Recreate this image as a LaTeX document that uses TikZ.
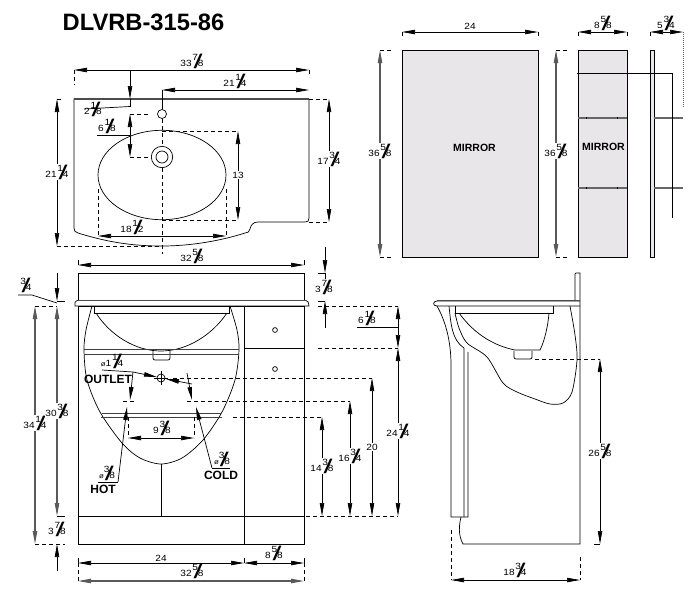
\documentclass[tikz,border=0pt]{standalone}
\usepackage{fontspec}
\setmainfont{Liberation Sans}
\newfontfamily\dimfont[FakeStretch=1.12]{Liberation Sans}
\usetikzlibrary{arrows.meta}
\newcommand{\fra}[2]{\raisebox{6pt}{#1}\kern-4.5pt\raisebox{-1.5pt}{\scalebox{3.2}[2.2]{/}}\kern-4.5pt#2}
\newcommand{\fr}[3]{#1\kern.8pt\fra{#2}{#3}}
\definecolor{mirrorgray}{HTML}{E8E6E8}
\begin{document}
\begin{tikzpicture}[x=1pt,y=-1pt,line width=.7pt]
	\tikzstyle{dimline}=[{Triangle[length=13pt,width=4.4pt]}-{Triangle[length=13pt,width=4.4pt]},line width=.7pt]
	\tikzstyle{dimgray}=[dimline,line width=1.1pt,draw=black!65]
	\tikzstyle{onetip}=[-{Triangle[length=13pt,width=4.4pt]},line width=.7pt]
	\tikzstyle{hidden}=[dash pattern=on 4pt off 3pt,line width=.7pt]
	\tikzstyle{lab}=[font=\dimfont\fontsize{9}{10}\selectfont,inner sep=.5pt]
	\tikzstyle{labw}=[lab,fill=white]
	\tikzstyle{bold}=[font=\bfseries\fontsize{12}{13}\selectfont,inner sep=0pt]
	\tikzstyle{mirror}=[font=\bfseries\fontsize{10.5}{12}\selectfont,inner sep=0pt]
	\tikzstyle{panel}=[draw,fill=mirrorgray]
	\useasboundingbox (0,0) rectangle (700,600);

	\node[font=\bfseries\fontsize{23.7}{26}\selectfont,inner sep=0pt] (title) at (143.5,22) {DLVRB-315-86};

	% plan of the top
	\draw (74,99) -- (309,99) -- (309,218) .. controls (309,221) and (308,222) .. (305,222) -- (258,222)
		.. controls (253,222) and (251,225) .. (250,229) .. controls (249,232) and (248,233) .. (245,233)
		.. controls (220,241) and (190,246) .. (162,246) .. controls (135,246) and (110,243) .. (78,233)
		.. controls (75,232) and (74,231) .. (74,228) -- cycle;
	\draw[line width=1.2pt,black!70] (74,99) -- (309,99);
	\draw (162,175) ellipse (64 and 44.7);
	\draw (162,114) circle (4.5);
	\draw (162,157) circle (10.7);
	\draw (162,157) circle (6);
	\draw (162,90) -- (162,109);
	\draw[hidden] (162,119) -- (162,146);
	\draw[hidden] (162,168) -- (162,254);

	\foreach \xa/\ya/\xb/\yb in {74/70/309/70,162/90/309/90,238/131/238/220,329/99/329/222,57/99/57/246,98/236/226/236,78/265/304/265,130/114/130/157}{
		\draw[dimline] (\xa,\ya) -- (\xb,\yb);
	}
	\draw[onetip] (130,70) -- (130,99);
	\draw (130,99) -- (130,107);
	\foreach \xa/\ya/\xb/\yb in {74/70/74/85,309/70/309/77,162/131/238/131,162/220/238/220,309/99/329/99,309/222/329/222,57/99/63/99,57/246/162/246,98/189/98/236,226/189/226/236,130/114/150/114,130/157/150/157}{
		\draw[hidden] (\xa,\ya) -- (\xb,\yb);
	}
	\draw (78,265) -- (78,260) (304,265) -- (304,260);
	\draw (84,109) -- (130,106.5);
	\draw (97,135) -- (130,135);

	\node[lab] (topW) at (192,61) {\fr{33}{7}{8}};
	\node[lab] (tapX) at (235,81) {\fr{21}{1}{4}};
	\node[lab] (tapY) at (93,109) {\fr{2}{1}{8}};
	\node[lab] (drainY) at (107,126) {\fr{6}{1}{8}};
	\node[labw] (bowlY) at (238,175) {13};
	\node[labw] (rightY) at (329,159) {\fr{17}{3}{4}};
	\node[labw] (topY) at (57,172) {\fr{21}{1}{4}};
	\node[lab] (bowlW) at (132,227) {\fr{18}{1}{2}};
	\node[lab] (backW) at (192,256) {\fr{32}{5}{8}};

	% mirror, front
	\draw[panel] (402,50) rectangle (538,257);
	\node[mirror] (mirA) at (474.5,147.5) {MIRROR};
	\draw[dimline] (402,32) -- (538,32);
	\draw[dimgray] (380,50) -- (380,257);
	\draw[hidden] (380,50) -- (391,50) (380,257) -- (391,257);
	\draw[hidden] (402,32) -- (402,39) (538,32) -- (538,39);
	\node[lab] (mirW) at (470,26) {24};
	\node[labw] (mirH) at (380,151) {\fr{36}{5}{8}};

	% mirror cabinet, front and side
	\draw[panel] (578,50) rectangle (627,257);
	\draw[panel] (650,50) rectangle (654,257);
	\foreach \y in {118,188}{
		\draw[line width=1.5pt,black!60] (578,\y) -- (627,\y);
		\draw[line width=1.5pt,black!60] (654,\y) -- (683,\y);
		\foreach \x in {586,617}{
			\draw (\x,\y-1) -- (\x,\y+1);
		}
	}
	\node[mirror] (mirB) at (603.5,146.5) {MIRROR};
	\draw (577,73) -- (672,73) -- (672,218);
	\draw[dimline] (578,32) -- (627,32);
	\draw[dimline] (650,32) -- (683,32);
	\draw[dimgray] (556,50) -- (556,257);
	\draw[hidden] (556,50) -- (567,50) (556,257) -- (567,257);
	\draw[hidden] (578,32) -- (578,39) (627,32) -- (627,39) (650,32) -- (650,39);
	\draw[densely dotted,black!60,line width=1pt] (683,32) -- (683,107);
	\node[lab] (cabW) at (603,23) {\fr{8}{5}{8}};
	\node[lab] (cabD) at (666,23) {\fr{5}{3}{4}};
	\node[labw] (cabH) at (556,151) {\fr{36}{5}{8}};

	% vanity, front
	\draw (78,300) rectangle (304,273);
	\draw (304,300.5) -- (306,300.5) .. controls (308,300.5) and (309,303) .. (309,306) -- (75,306)
		.. controls (74,304) and (75,300.5) .. (78,300.5);
	\draw[line width=1.2pt,black!70] (78,300.5) -- (306,300.5);
	\draw (78,306) rectangle (304,544);
	\draw (78,516) -- (304,516);
	\draw (244,306) -- (244,544);
	\draw (244,348) -- (304,348);
	\draw (161,464) -- (161,516);
	\draw (275,330) circle (2.4);
	\draw (275,369) circle (2.4);
	\draw plot[smooth] coordinates {(92,306) (86,330) (84,350) (87,380) (100,412) (122,443) (140,458) (161,464) (182,458) (203,440) (222,412) (235,380) (239,350) (237,330) (230,306)};
	\draw (94,306) -- (94,313) -- (229,313) -- (229,306);
	\draw (96,313) .. controls (110,335) and (135,351) .. (161,351) .. controls (187,351) and (212,335) .. (227,313);
	\draw[rounded corners=2pt] (153,351) -- (153,360) -- (170,360) -- (170,351);
	\draw[line width=.9pt,black!75] (84,349.5) -- (239,349.5) (84,354.5) -- (239,354.5);
	\draw[line width=.9pt,black!75] (102,413) -- (221,413) (101,417.5) -- (222,417.5);
	\draw (161,378) circle (4);
	\draw (161,371) -- (161,385) (154,378) -- (168,378);

	% pipes and their leaders
	\draw (102,370) -- (133,372);
	\draw[onetip] (133,372) -- (157,377);
	\draw[onetip] (192,384) -- (166,379);
	\draw[onetip] (133,372) -- (130,400);
	\draw[onetip] (187,373) -- (192,400);
	\draw (98,482) -- (118,482);
	\draw[onetip] (118,482) -- (127,407);
	\draw (230,468) -- (212,468);
	\draw[onetip] (212,468) -- (196,407);
	\foreach \xa/\ya/\xb/\yb in {173/378/372/378,123/401/136/401,187/401/350/401,233/417/322/417,306/516/398/516,128/417/128/438,194/417/194/438,318/306/398/306,318/348/398/348,35/306/57/306,35/544/65/544}{
		\draw[hidden] (\xa,\ya) -- (\xb,\yb);
	}
	\foreach \xa/\ya/\xb/\yb in {128/438/194/438,322/417/322/516,350/401/350/516,372/378/372/516,398/348/398/516,398/306/398/348,78/563/244/563,244/563/304/563}{
		\draw[dimline] (\xa,\ya) -- (\xb,\yb);
	}
	\foreach \xa/\ya/\xb/\yb in {35/306/35/544,57/306/57/516,78/581/304/581}{
		\draw[dimgray] (\xa,\ya) -- (\xb,\yb);
	}
	\draw[onetip] (57,273) -- (57,301);
	\draw[onetip] (57,571) -- (57,544);
	\draw[onetip] (325,247) -- (325,273);
	\draw[onetip] (325,328) -- (325,301);
	\draw (325,273) -- (325,279);
	\draw (57,301) -- (65,301) (57,516) -- (65,516) (318,273) -- (325,273) (318,301) -- (325,301);
	\draw (18,295) -- (32,295) -- (57,303);
	\draw (357,327) -- (398,327);
	\draw (78,563) -- (78,558) (244,563) -- (244,558) (304,563) -- (304,558);
	\draw[hidden] (78,563) -- (78,581) (304,563) -- (304,581);

	\node[lab] (lipY) at (26,285) {\fra{3}{4}};
	\node[labw] (floorA) at (35,423) {\fr{34}{1}{4}};
	\node[labw] (floorB) at (57,411) {\fr{30}{3}{8}};
	\node[labw] (toeY) at (57,529) {\fr{3}{7}{8}};
	\node[labw] (backY) at (324,287) {\fr{3}{7}{8}};
	\node[lab] (drawerY) at (367,318) {\fr{6}{1}{8}};
	\node[labw] (pipeA) at (322,466) {\fr{14}{3}{8}};
	\node[labw] (pipeB) at (350,456) {\fr{16}{3}{4}};
	\node[labw] (pipeC) at (372,447) {20};
	\node[labw] (pipeD) at (398,431) {\fr{24}{1}{4}};
	\node[lab] (doorW) at (161,558) {24};
	\node[lab] (sideW) at (274,553) {\fr{8}{5}{8}};
	\node[lab] (vanW) at (192,571) {\fr{32}{5}{8}};
	\node[lab] (pipeW) at (162,428) {\fr{9}{3}{8}};
	\node[lab] (outD) at (112,361) {{\scriptsize ø}\fr{1}{1}{4}};
	\node[lab] (hotD) at (107,473) {{\scriptsize ø}\fra{3}{8}};
	\node[lab] (coldD) at (222,459) {{\scriptsize ø}\fra{3}{8}};
	\node[bold] (outlet) at (108,379) {OUTLET};
	\node[bold] (hot) at (103,489) {HOT};
	\node[bold] (cold) at (221,475) {COLD};

	% vanity, side
	\draw (575,301) -- (575,274) .. controls (575,273) and (576,273) .. (577,273) -- (580,273) -- (580,544) -- (463,544)
		.. controls (458,535) and (459,525) .. (461,517);
	\draw (580,306) -- (437,306) .. controls (432,306) and (433,301) .. (437,301) -- (580,301);
	\draw[line width=1.2pt,black!70] (437,300.5) -- (580,300.5);
	\draw (437,306) .. controls (445,320) and (451,340) .. (451,365) -- (451,517) -- (468,517) -- (468,352);
	\draw (449,306) .. controls (451,325) and (452,340) .. (464,348) -- (464,517);
	\draw plot[smooth] coordinates {(455,313) (459,328) (467,343) (487,357) (503,383) (517,392) (535,399) (550,404) (563,403) (572,392) (577,360) (575,335) (570,306)};
	\draw (455,306) -- (455,313) -- (553,313) -- (553,306);
	\draw (459,313) .. controls (475,335) and (495,346) .. (515,350) -- (540,350) .. controls (545,340) and (548,325) .. (549,313);
	\draw[rounded corners=2pt] (514,351) -- (514,359) -- (532,359) -- (532,351);
	\draw[hidden] (535,359) -- (600,359);
	\draw[dimline] (600,359) -- (600,544);
	\draw (594,544) -- (600,544);
	\draw[dimline] (451,580) -- (580,580);
	\draw[hidden] (451,530) -- (451,580) (580,557) -- (580,580);
	\node[labw] (sideH) at (600,451) {\fr{26}{5}{8}};
	\node[lab] (sideD) at (515,570) {\fr{18}{3}{4}};
\end{tikzpicture}
\end{document}
